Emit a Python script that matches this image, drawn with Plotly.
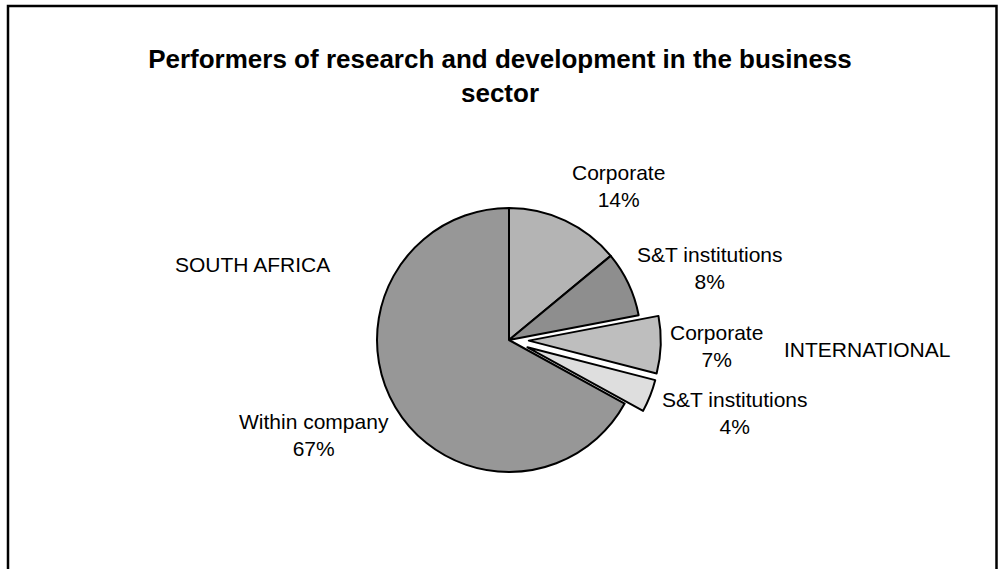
import plotly.graph_objects as go

# ---- data ----
categories = ["Corporate", "S&T institutions", "Corporate", "S&T institutions", "Within company"]
regions = ["SOUTH AFRICA", "SOUTH AFRICA", "INTERNATIONAL", "INTERNATIONAL", "SOUTH AFRICA"]
values = [14, 8, 7, 4, 67]
pulls = [0, 0, 0.15, 0.15, 0]
colors = ["#b4b4b4", "#8e8e8e", "#bebebe", "#dedede", "#979797"]
title_text = "Performers of research and development in the business<br>sector"
group_labels = ["SOUTH AFRICA", "INTERNATIONAL"]

W, H = 998, 569
FONT = "Arial, Liberation Sans, sans-serif"

# pie geometry (pixels)
cx, cy, r = 509, 340, 132
half = r * (1 + max(pulls))

pie_labels = [f"{g}: {c}" for g, c in zip(regions, categories)]

fig = go.Figure(go.Pie(
    labels=pie_labels,
    values=values,
    pull=pulls,
    sort=False,
    direction="clockwise",
    rotation=0,
    textinfo="none",
    hoverinfo="label+percent",
    marker=dict(colors=colors, line=dict(color="black", width=2)),
    domain=dict(x=[(cx - half) / W, (cx + half) / W],
                y=[1 - (cy + half) / H, 1 - (cy - half) / H]),
    showlegend=False,
))

# label positions (pixel centers) for each slice
label_pos = [(618, 186), (710, 267.5), (716, 346), (735, 412.5), (314, 435)]
total = sum(values)
annotations = []
for cat, v, (x, y) in zip(categories, values, label_pos):
    annotations.append(dict(
        x=x / W, y=1 - y / H, xref="paper", yref="paper",
        text=f"{cat}<br>{round(100 * v / total)}%",
        showarrow=False, xanchor="center", yanchor="middle",
        font=dict(family=FONT, size=21, color="black"), align="center"))

group_pos = [(253, 264), (867, 349)]
for g, (x, y) in zip(group_labels, group_pos):
    annotations.append(dict(
        x=x / W, y=1 - y / H, xref="paper", yref="paper", text=g,
        showarrow=False, xanchor="center", yanchor="middle",
        font=dict(family=FONT, size=21, color="black")))

fig.update_layout(
    width=W, height=H,
    margin=dict(l=0, r=0, t=0, b=0),
    paper_bgcolor="white", plot_bgcolor="white",
    title=dict(text=f"<b>{title_text}</b>", x=500 / W, xanchor="center",
               y=1 - 68 / H, yanchor="middle", yref="paper",
               font=dict(family=FONT, size=26, color="black")),
    annotations=annotations,
    shapes=[dict(type="rect", xref="paper", yref="paper",
                 x0=8 / W, x1=996.5 / W, y0=-0.05, y1=1 - 6 / H,
                 line=dict(color="black", width=2.5), fillcolor="rgba(0,0,0,0)")],
)

fig.write_html("out.html")
